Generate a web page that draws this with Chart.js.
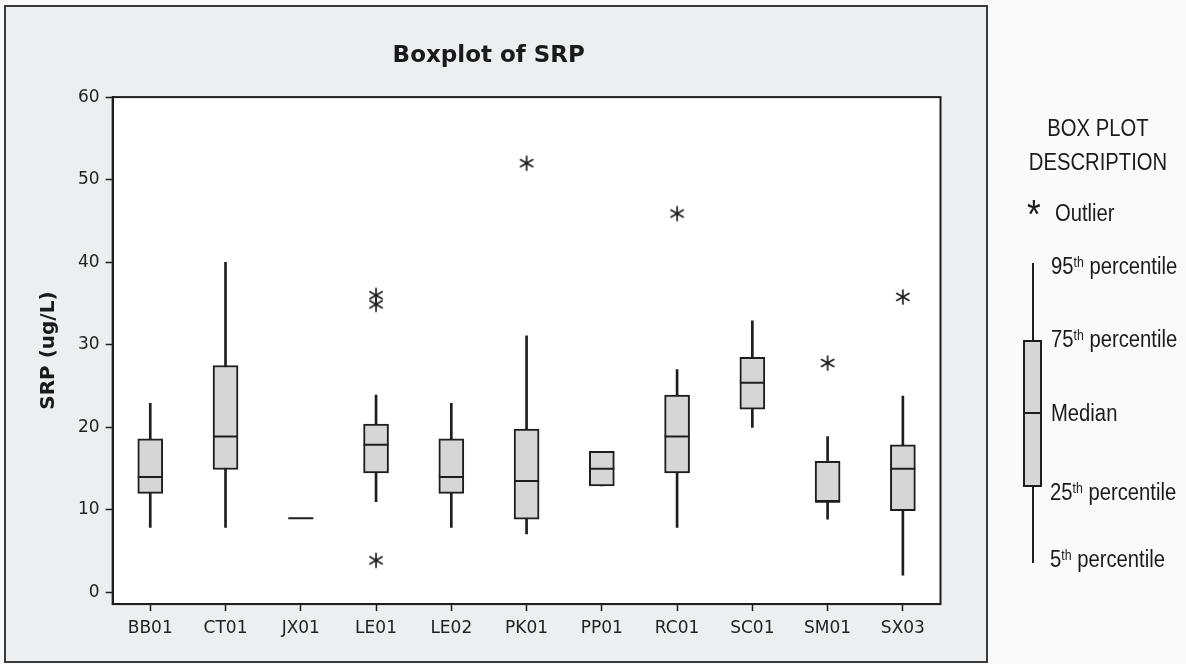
<!DOCTYPE html>
<html>
<head>
<meta charset="utf-8">
<script src="https://cdn.jsdelivr.net/npm/chart.js@4.4.1/dist/chart.umd.min.js"></script>
<style>
  body { margin: 0; background: #fafafa; }
  #wrap { position: relative; width: 1186px; height: 664px; overflow: hidden; }
  #frame { position: absolute; left: 4px; top: 5px; width: 984px; height: 658px; box-sizing: border-box;
           border: 2px solid #3a3a3a; background: #eceef0; }
  canvas { position: absolute; left: 0; top: 0; }
  .lg { position: absolute; font-family: "Liberation Sans", Arial, sans-serif; font-size: 23px; line-height: 23px;
        color: #1a1a1a; white-space: nowrap; transform: scaleX(0.88); transform-origin: left top; }
  .lg.c { width: 200px; text-align: center; transform-origin: 50% 0; }
  .lg sup { font-size: 14px; line-height: 0; vertical-align: 7px; }
  .gl { position: absolute; background: #1e1e1e; }
  #lgbox { position: absolute; left: 1023px; top: 340px; width: 19px; height: 147px; box-sizing: border-box;
           border: 2px solid #1e1e1e; background: #d6d6d6; }
</style>
</head>
<body>
<div id="wrap">
  <div id="frame"></div>
  <canvas id="boxChart" width="1186" height="664"></canvas>

  <div class="lg c" style="left:998px; top:117px;">BOX PLOT</div>
  <div class="lg c" style="left:998px; top:151px;">DESCRIPTION</div>
  <div class="lg" style="left:1027px; top:203px; font-size:40px;">*</div>
  <div class="lg" style="left:1055px; top:202px;">Outlier</div>
  <div class="gl" style="left:1032px; top:263px; width:2px; height:78px;"></div>
  <div id="lgbox"></div>
  <div class="gl" style="left:1023px; top:412px; width:19px; height:2px;"></div>
  <div class="gl" style="left:1032px; top:486px; width:2px; height:77px;"></div>
  <div class="lg" style="left:1051px; top:255px;">95<sup>th</sup> percentile</div>
  <div class="lg" style="left:1051px; top:328px;">75<sup>th</sup> percentile</div>
  <div class="lg" style="left:1051px; top:402px;">Median</div>
  <div class="lg" style="left:1050px; top:481px;">25<sup>th</sup> percentile</div>
  <div class="lg" style="left:1050px; top:548px;">5<sup>th</sup> percentile</div>
</div>

<script>
// SRP per site (ug/L)
const categories = ["BB01", "CT01", "JX01", "LE01", "LE02", "PK01", "PP01", "RC01", "SC01", "SM01", "SX03"];
const p5  = [7.9,  7.9, 9.0, 11.0,  7.9,  7.1, 12.9,  7.9, 20.0,  8.9,  2.1];
const q1  = [12.0, 14.9, 9.0, 14.5, 12.0,  8.9, 12.9, 14.5, 22.2, 11.0,  9.9];
const med = [14.0, 18.9, 9.0, 17.9, 14.0, 13.5, 15.0, 18.9, 25.4, 11.0, 15.0];
const q3  = [18.6, 27.5, 9.0, 20.4, 18.6, 19.8, 17.1, 23.9, 28.5, 15.9, 17.9];
const p95 = [22.9, 40.0, 9.0, 23.9, 22.9, 31.1, 17.1, 27.0, 32.9, 18.9, 23.8];

const outlierSites  = ["LE01", "LE01", "LE01", "PK01", "RC01", "SM01", "SX03"];
const outlierValues = [3.9, 34.9, 36.0, 52.0, 45.9, 27.8, 35.8];

const yTicks = [0, 10, 20, 30, 40, 50, 60];

const ink = "#1e1e1e";

Chart.defaults.font.family = "'DejaVu Sans', Verdana, sans-serif";
Chart.defaults.color = "#222";

function makeAsterisk() {
    const c = document.createElement("canvas");
    c.width = 18;
    c.height = 18;
    const g = c.getContext("2d");
    g.strokeStyle = ink;
    g.lineWidth = 1.7;
    g.lineCap = "round";
    const r = 7;
    [90, 30, -30].forEach(a => {
        const t = a * Math.PI / 180;
        g.beginPath();
        g.moveTo(9 - r * Math.cos(t), 9 + r * Math.sin(t));
        g.lineTo(9 + r * Math.cos(t), 9 - r * Math.sin(t));
        g.stroke();
    });
    return c;
}

// white plot area + closing frame on top/right
const plotFrame = {
    id: "plotFrame",
    beforeDraw(chart) {
        const { ctx, chartArea: a } = chart;
        ctx.save();
        ctx.fillStyle = "#ffffff";
        ctx.fillRect(a.left, a.top, a.width, a.height);
        ctx.restore();
    },
    afterDraw(chart) {
        const { ctx, chartArea: a } = chart;
        ctx.save();
        ctx.strokeStyle = ink;
        ctx.lineWidth = 2;
        ctx.strokeRect(a.left, a.top, a.width, a.height);
        ctx.restore();
    }
};

const axisGrid = { drawOnChartArea: false, tickLength: 7, tickWidth: 1.5, color: ink };

new Chart(document.getElementById("boxChart").getContext("2d"), {
    type: "bar",
    data: {
        labels: categories,
        datasets: [
            {
                label: "whisker",
                data: categories.map((c, i) => [p5[i], p95[i]]),
                backgroundColor: ink,
                barThickness: 2,
                grouped: false,
                order: 3
            },
            {
                label: "box",
                data: categories.map((c, i) => q1[i] === q3[i] ? null : [q1[i], q3[i]]),
                backgroundColor: "#d6d6d6",
                borderColor: ink,
                borderWidth: 2,
                borderSkipped: false,
                barThickness: 25,
                grouped: false,
                order: 2
            },
            {
                type: "line",
                label: "median",
                data: med,
                showLine: false,
                pointStyle: "line",
                pointRadius: 12.5,
                pointBorderWidth: 2,
                pointBorderColor: ink,
                order: 1
            },
            {
                type: "line",
                label: "outlier",
                data: outlierSites.map((s, i) => ({ x: s, y: outlierValues[i] })),
                showLine: false,
                pointStyle: makeAsterisk(),
                order: 0
            }
        ]
    },
    options: {
        responsive: false,
        animation: false,
        layout: { padding: { left: 37, right: 245.5, top: 0, bottom: 18.5 } },
        plugins: {
            legend: { display: false },
            tooltip: { enabled: false },
            title: {
                display: true,
                text: "Boxplot of SRP",
                color: "#1a1a1a",
                font: { size: 23, weight: "bold" },
                padding: { top: 42, bottom: 27.5 }
            }
        },
        scales: {
            x: {
                type: "category",
                grid: { ...axisGrid, offset: false },
                border: { color: ink, width: 2 },
                ticks: { font: { size: 17 }, padding: 7, maxRotation: 0, autoSkip: false }
            },
            y: {
                min: -1.4,
                max: 60,
                afterBuildTicks: scale => { scale.ticks = yTicks.map(v => ({ value: v })); },
                grid: axisGrid,
                border: { color: ink, width: 2 },
                ticks: { font: { size: 17 }, padding: 6 },
                title: {
                    display: true,
                    text: "SRP (ug/L)",
                    color: "#1a1a1a",
                    font: { size: 20, weight: "bold" },
                    padding: { top: 0, bottom: 11 }
                }
            }
        }
    },
    plugins: [plotFrame]
});
</script>
</body>
</html>
